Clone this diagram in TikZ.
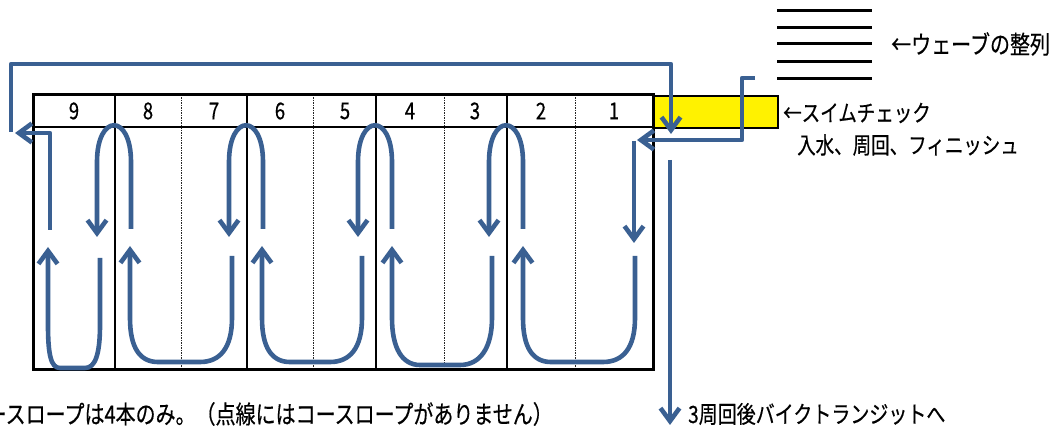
\documentclass[tikz,border=0pt]{standalone}
\usepackage{fontspec}
\usepackage{graphicx}
\setmainfont{Noto Sans CJK JP}[FakeBold=0.5]
\usetikzlibrary{arrows.meta}
\definecolor{swim}{RGB}{58,96,146}
\tikzset{
  swimpath/.style={draw=swim, line width=4.6pt, line join=round},
  swimarrow/.style={swimpath, -{Straight Barb[length=13pt,width=19pt]}},
  laneouter/.style={draw=black, line width=3pt},
  lanesolid/.style={draw=black, line width=2.4pt},
  lanedot/.style={draw=black!85, line width=0.9pt, dash pattern=on 1.5pt off 1pt},
  waveline/.style={draw=black, line width=3pt},
  lbl/.style={inner sep=0pt, font=\fontsize{18.5}{20}\selectfont},
}
\newcommand{\tall}[1]{\scalebox{1}[1.25]{#1}}
\begin{document}
\begin{tikzpicture}[x=1pt,y=-1pt]
\useasboundingbox (0,0) rectangle (1055,427);

% swim check box
\draw[fill=yellow, line width=1.6pt] (653,96) rectangle (778,128);

% pool
\draw[lanedot] (181,95) -- (181,370);
\draw[lanedot] (313,95) -- (313,370);
\draw[lanedot] (444,95) -- (444,370);
\draw[lanedot] (575,95) -- (575,370);
\foreach \c in {115,247,376,507} \draw[lanesolid] (\c,95) -- (\c,370);
\draw[lanesolid, line width=2.6pt] (33,127) -- (653,127);
\draw[laneouter] (33,95) rectangle (653,370);

% lane numbers
\foreach \n/\x in {9/74,8/148,7/214,6/280,5/345,4/410,3/475,2/541,1/614}
  \node[lbl] (num\n) at (\x,111) {\tall{\n}};

% wave lines
\foreach \y in {11,28,44,62,79} \draw[waveline] (777,\y) -- (872,\y);

% labels
\node[lbl, anchor=west, font=\fontsize{20}{22}\selectfont] (wave) at (891,44) {\tall{←ウェーブの整列}};
\node[lbl, anchor=west] (check) at (783,113) {\tall{←スイムチェック}};
\node[lbl, anchor=west] (entry) at (797,145) {\tall{入水、周回、フィニッシュ}};
\node[lbl, anchor=west, font=\fontsize{19}{21}\selectfont] (bike) at (688,414) {\tall{3周回後バイクトランジットへ}};
\node[lbl, anchor=east, font=\fontsize{20}{22}\selectfont] (rope) at (553,414) {\tall{ースロープは4本のみ。（点線にはコースロープがありません）}};

% outer loop back to swim check
\coordinate (loopA) at (11,132);
\coordinate (loopB) at (671,134);
\draw[swimarrow] (loopA) -- (11,64) -- (671,64) -- (loopB);

% entry
\coordinate (entA) at (755,78);
\coordinate (entB) at (637,140);
\draw[swimarrow] (entA) -- (742,78) -- (742,140) -- (entB);
\draw[swimarrow] (634,141) -- (634,243);

% top turns
\foreach \c in {115,247,376,507}
  \draw[swimarrow] ({\c+16},229) -- ({\c+16},162)
     .. controls ({\c+16},113) and ({\c-18},113) .. ({\c-18},162) -- ({\c-18},237);

% bottom turns
\foreach \l/\r/\b in {130/232/362, 262/362/362, 392/492/365, 523/635/362}
  \draw[swimarrow] (\r,256) -- (\r,318)
     .. controls (\r,348) and ({\r-12},\b) .. ({\r-32},\b) -- ({\l+28},\b)
     .. controls ({\l+10},\b) and (\l,348) .. (\l,318) -- (\l,246);

% lane 9
\draw[swimarrow] (100,258) -- (100,325) .. controls (100,355) and (95,368) .. (85,368)
   -- (60,368) .. controls (51,368) and (48,355) .. (48,325) -- (48,247);
\coordinate (exit9) at (15,133);
\draw[swimarrow] (50,230) -- (50,133) -- (exit9);

% to bike transit
\coordinate (bikeA) at (670,160);
\coordinate (bikeB) at (670,425);
\draw[swimarrow] (bikeA) -- (bikeB);
\end{tikzpicture}
\end{document}
